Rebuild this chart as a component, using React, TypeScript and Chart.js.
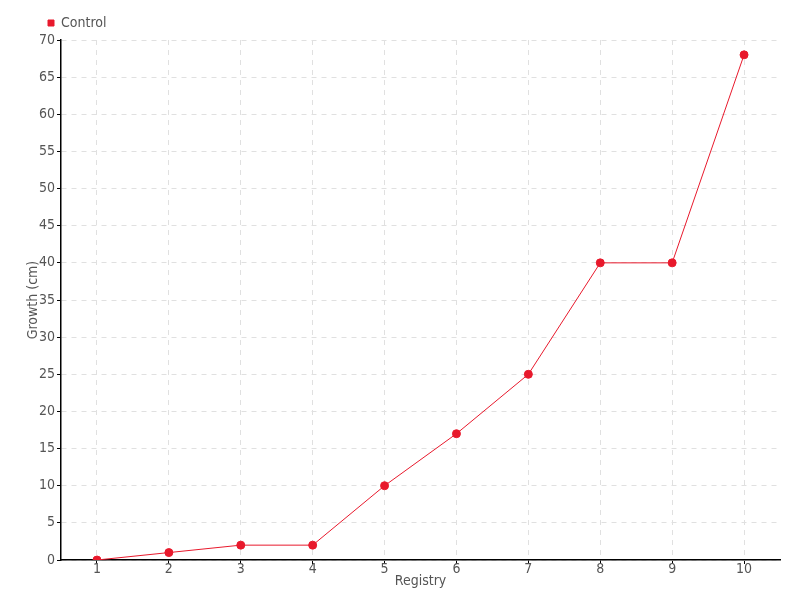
import React, { useEffect, useRef } from "react";
import { Chart, registerables } from "chart.js";

Chart.register(...registerables);

const categories = ["1", "2", "3", "4", "5", "6", "7", "8", "9", "10"];
const controlValues = [0, 1, 2, 2, 10, 17, 25, 40, 40, 68];
const seriesName = "Control";
const xTitle = "Registry";
const yTitle = "Growth (cm)";

const FONT = "'DejaVu Sans Condensed', 'DejaVu Sans', sans-serif";
const RED = "#e8192c";
const TEXT = "#555";

const legendShift = {
  id: "legendShift",
  afterLayout(chart: any) {
    if (chart.legend) chart.legend.left += 16;
  },
};

export default function App() {
  const ref = useRef<HTMLCanvasElement | null>(null);
  useEffect(() => {
    if (!ref.current) return;
    const chart = new Chart(ref.current, {
      type: "line",
      data: {
        labels: categories,
        datasets: [
          {
            label: seriesName,
            data: controlValues,
            borderColor: RED,
            backgroundColor: RED,
            borderWidth: 1,
            pointRadius: 4,
            pointBackgroundColor: RED,
            pointBorderColor: RED,
            tension: 0,
          },
        ],
      },
      options: {
        animation: false,
        responsive: false,
        layout: { padding: { top: 10, right: 20, left: 26, bottom: 12 } },
        plugins: {
          legend: {
            position: "top",
            align: "start",
            labels: {
              boxWidth: 6,
              boxHeight: 6,
              padding: 6,
              color: TEXT,
              font: { family: FONT, size: 14 },
            },
          },
          tooltip: { enabled: false },
        },
        scales: {
          x: {
            offset: true,
            title: {
              display: true,
              text: xTitle,
              color: TEXT,
              font: { family: FONT, size: 14, lineHeight: 1 },
              padding: { top: 0, bottom: 0 },
            },
            ticks: { color: TEXT, font: { family: FONT, size: 14, lineHeight: 1 }, padding: -2, maxRotation: 0 },
            grid: { color: "#e0e0e0", tickColor: "#000", tickLength: 4, offset: false },
            border: { color: "#000", width: 1.5, dash: [5, 5] },
          },
          y: {
            min: 0,
            max: 70,
            title: {
              display: true,
              text: yTitle,
              color: TEXT,
              font: { family: FONT, size: 14, lineHeight: 1 },
              padding: { top: 0, bottom: -3 },
            },
            ticks: { stepSize: 5, color: TEXT, font: { family: FONT, size: 14 }, padding: 2 },
            grid: { color: "#e0e0e0", tickColor: "#000", tickLength: 4 },
            border: { color: "#000", width: 1.5, dash: [5, 5] },
          },
        },
      },
      plugins: [legendShift],
    });
    return () => chart.destroy();
  }, []);
  return (
    <div style={{ position: "absolute", left: 0, top: 0, width: 800, height: 600, background: "#fff" }}>
      <canvas ref={ref} width={800} height={600} />
    </div>
  );
}
